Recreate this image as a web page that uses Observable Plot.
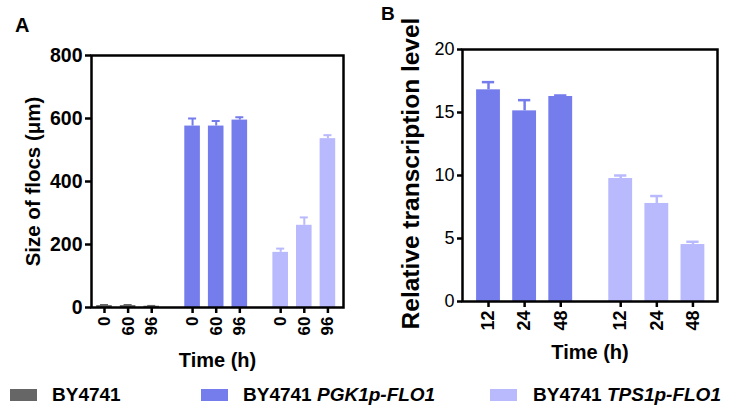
<!DOCTYPE html>
<html>
<head>
<meta charset="utf-8">
<script src="https://cdn.jsdelivr.net/npm/d3@7"></script>
<script src="https://cdn.jsdelivr.net/npm/@observablehq/plot@0.6"></script>
<style>
  html, body { margin: 0; padding: 0; background: #fff; }
  #wrap { position: relative; width: 734px; height: 412px; overflow: hidden; font-family: "Liberation Sans", Arial, sans-serif; color: #000; }
  .panel { position: absolute; top: 0; }
  .letter { position: absolute; font-weight: bold; }
  .sw { position: absolute; width: 27px; height: 12px; top: 389px; }
  .lt { position: absolute; top: 385px; font-size: 19px; line-height: 19px; font-weight: bold; white-space: nowrap; }
</style>
</head>
<body>
<div id="wrap">
  <div id="pa" class="panel" style="left:0px;"></div>
  <div id="pb" class="panel" style="left:370px;"></div>
  <div class="letter" style="left:15px; top:15px; font-size:20px; line-height:20px;">A</div>
  <div class="letter" style="left:381px; top:4px; font-size:19px; line-height:19px;">B</div>
  <div id="legend"></div>
</div>
<script>
// ---- data ----
const strains = ["BY4741", "BY4741 PGK1p-FLO1", "BY4741 TPS1p-FLO1"];
const strainColors = ["#666666", "#757cec", "#b9b9fd"];
const timesA = ["0", "60", "96"];
const sizeBY = [6, 6, 4];
const sizeBYErr = [2, 2, 1];
const sizePGK = [576, 576, 595];
const sizePGKErr = [24, 16, 9];
const sizeTPS = [175, 261, 536];
const sizeTPSErr = [12, 25, 11];
const timesB = ["12", "24", "48"];
const transPGK = [16.8, 15.13, 16.27];
const transPGKErr = [0.61, 0.85, 0.08];
const transTPS = [9.76, 7.78, 4.52];
const transTPSErr = [0.24, 0.59, 0.22];
const ticksA = [0, 200, 400, 600, 800];
const ticksB = [0, 5, 10, 15, 20];

const font = '"Liberation Sans", Arial, sans-serif';

function build(groups, times, gapA) {
  const rows = [];
  groups.forEach((g, gi) => {
    g.values.forEach((v, i) => {
      rows.push({strain: g.strain, time: times[i], value: v, err: g.errs[i], pos: gi * gapA + i});
    });
  });
  return rows;
}

const dataA = build([
  {strain: strains[0], values: sizeBY, errs: sizeBYErr},
  {strain: strains[1], values: sizePGK, errs: sizePGKErr},
  {strain: strains[2], values: sizeTPS, errs: sizeTPSErr}
], timesA, 3.73);

const dataB = build([
  {strain: strains[1], values: transPGK, errs: transPGKErr},
  {strain: strains[2], values: transTPS, errs: transTPSErr}
], timesB, 3.66);

function panel(data, opts) {
  const labelMap = new Map(data.map(d => [d.pos, d.time]));
  const hw = 0.33, cw = 0.17;
  return Plot.plot({
    width: opts.width, height: 370,
    marginLeft: opts.ml, marginRight: opts.mr, marginTop: opts.mt, marginBottom: opts.mb,
    style: {fontFamily: font, background: "transparent", overflow: "visible"},
    x: {type: "linear", domain: opts.xdom},
    y: {domain: opts.ydom},
    color: {domain: strains, range: strainColors},
    marks: [
      Plot.rectY(data, {x1: d => d.pos - hw, x2: d => d.pos + hw, y1: 0, y2: "value", fill: "strain"}),
      Plot.ruleX(data, {x: "pos", y1: "value", y2: d => d.value + d.err, stroke: "strain", strokeWidth: opts.ew}),
      Plot.ruleY(data, {y: d => d.value + d.err, x1: d => d.pos - cw, x2: d => d.pos + cw, stroke: "strain", strokeWidth: opts.ew}),
      Plot.frame({stroke: "#000", strokeWidth: 2.5}),
      Plot.axisY({ticks: opts.yticks, tickSize: opts.ts, tickPadding: 3, strokeWidth: 2.5, stroke: "#000",
        fontSize: opts.tfs, fontWeight: opts.tfw, fill: "#000", label: null}),
      Plot.axisX({ticks: data.map(d => d.pos), tickFormat: d => labelMap.get(d), tickRotate: -90,
        tickSize: 6, tickPadding: 3, strokeWidth: 2.5, stroke: "#000",
        fontSize: opts.xfs, fontWeight: "bold", fill: "#000", label: null}),
      Plot.text([opts.ylabel], {text: d => d, frameAnchor: "left", textAnchor: "middle", lineAnchor: "middle",
        dx: opts.ydx, dy: opts.ydy, rotate: -90,
        fontSize: opts.yfs, fontWeight: "bold", fill: "#000"}),
      Plot.text(["Time (h)"], {text: d => d, frameAnchor: "bottom", textAnchor: "middle", lineAnchor: "middle",
        dy: opts.xdy, fontSize: 20, fontWeight: "bold", fill: "#000"})
    ]
  });
}

document.getElementById("pa").appendChild(panel(dataA, {
  width: 370, ml: 91, mr: 27, mt: 55, mb: 63,
  xdom: [-0.55, 10.12], ydom: [0, 800], yticks: ticksA,
  ew: 2, ts: 6, tfs: 19.5, tfw: "bold", xfs: 17,
  ylabel: "Size of flocs (μm)", ydx: -58, ydy: 0, yfs: 20.5, xdy: 53
}));

document.getElementById("pb").appendChild(panel(dataB, {
  width: 364, ml: 92, mr: 17, mt: 49, mb: 69,
  xdom: [-0.72, 6.34], ydom: [0, 20], yticks: ticksB,
  ew: 2.5, ts: 5, tfs: 18, tfw: "normal", xfs: 18,
  ylabel: "Relative transcription level", ydx: -51, ydy: -2, yfs: 24.5, xdy: 51
}));

// legend
const legendPos = [{sx: 10, tx: 52}, {sx: 201, tx: 243}, {sx: 490, tx: 533}];
const legendHTML = [
  'BY4741',
  'BY4741 <i>PGK1p-FLO1</i>',
  'BY4741 <i>TPS1p-FLO1</i>'
];
const leg = document.getElementById("legend");
strains.forEach((s, i) => {
  const sw = document.createElement("div");
  sw.className = "sw";
  sw.style.left = legendPos[i].sx + "px";
  sw.style.background = strainColors[i];
  leg.appendChild(sw);
  const t = document.createElement("div");
  t.className = "lt";
  t.style.left = legendPos[i].tx + "px";
  t.innerHTML = legendHTML[i];
  leg.appendChild(t);
});
</script>
</body>
</html>
